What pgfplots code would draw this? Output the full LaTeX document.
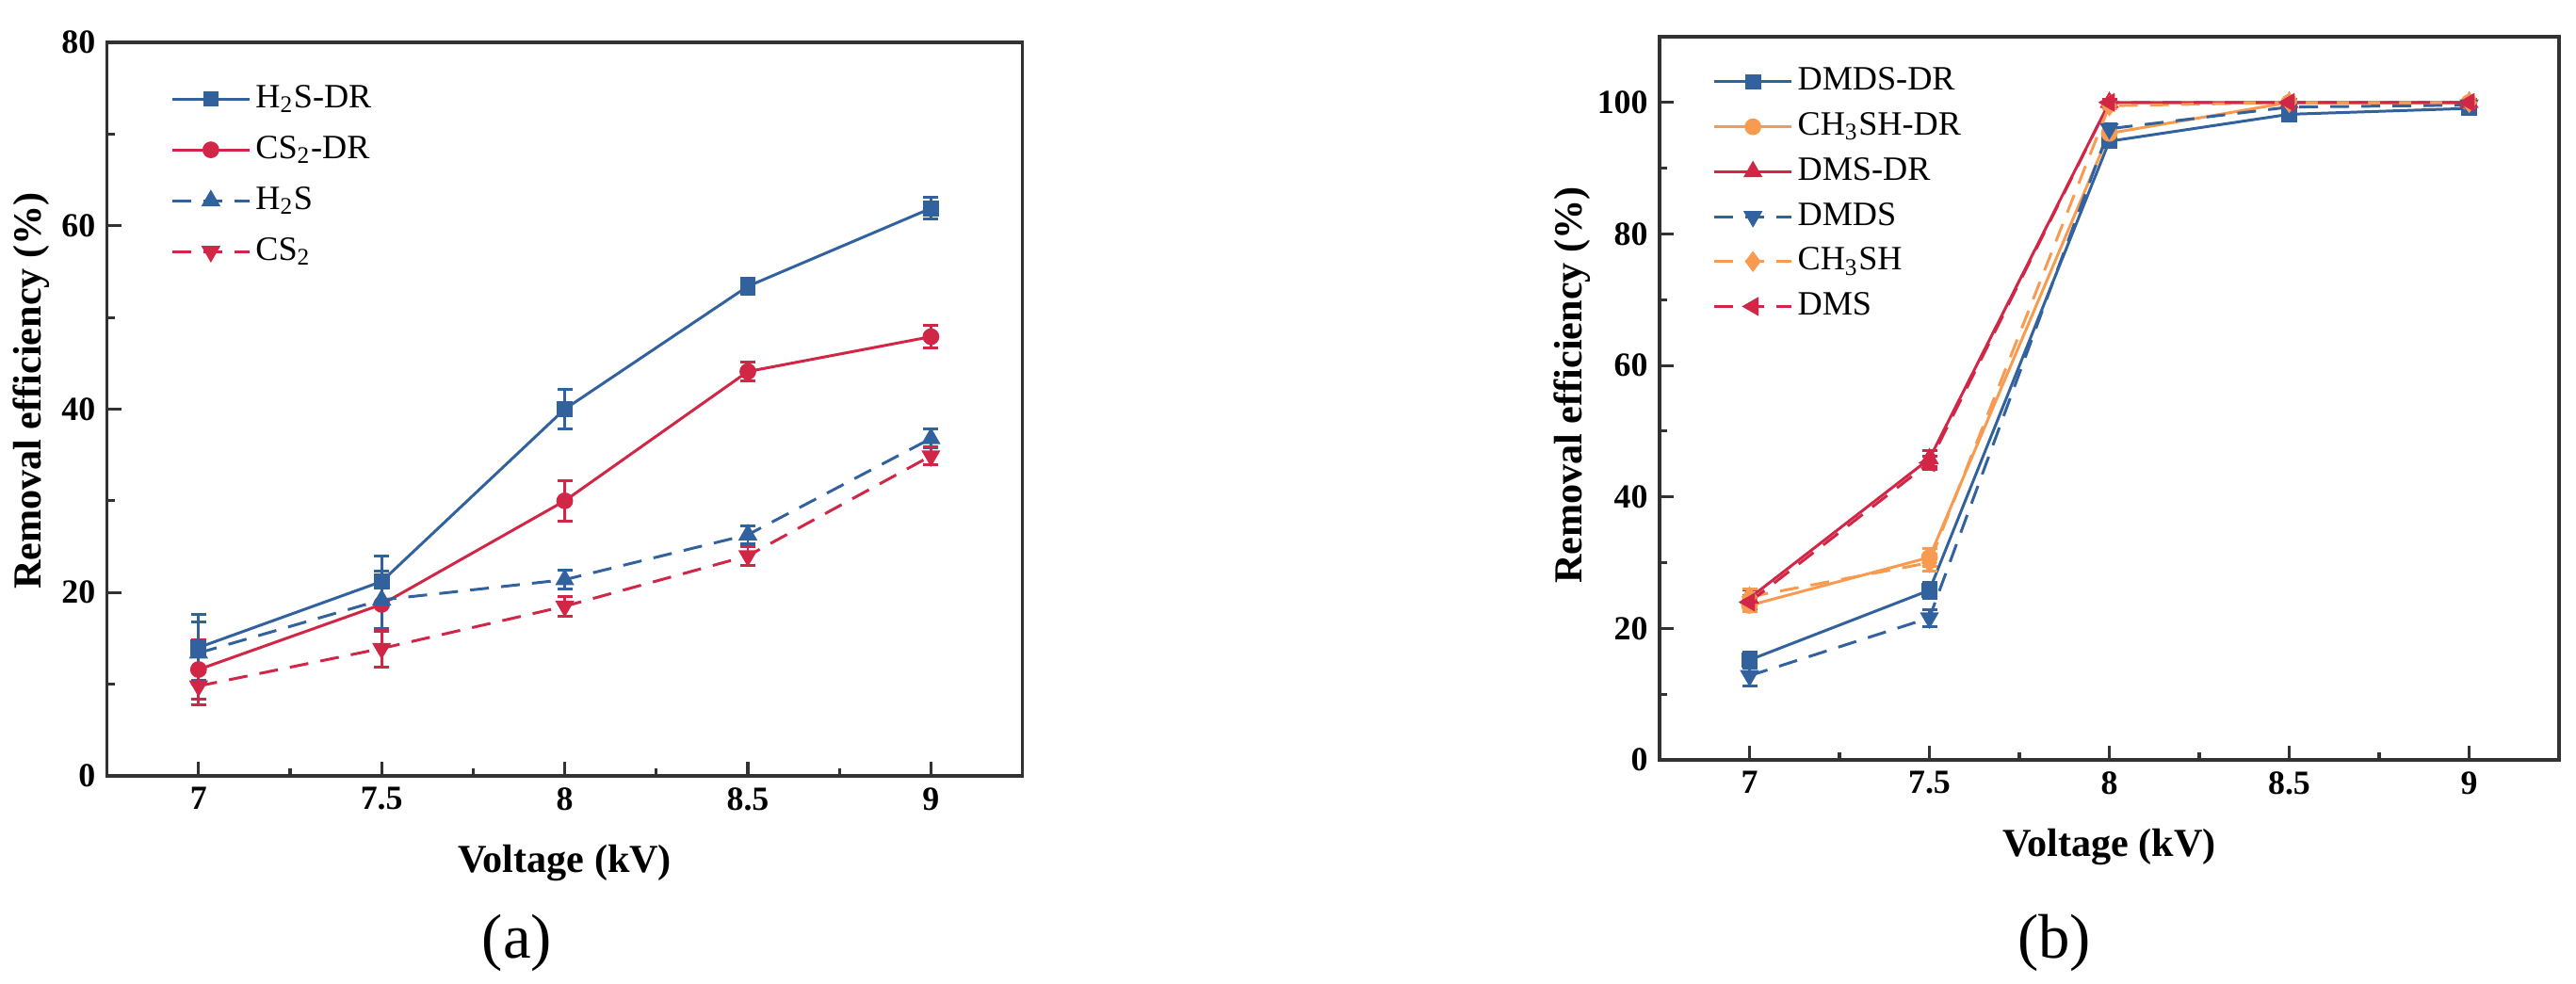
\documentclass[border=0pt]{standalone}
\usepackage{fontspec}
\setmainfont{Liberation Serif}
\usepackage{pgfplots}
\pgfplotsset{compat=1.18}
\definecolor{cblue}{RGB}{50,98,158}
\definecolor{cred}{RGB}{210,38,70}
\definecolor{corange}{RGB}{248,155,80}
\definecolor{axgray}{RGB}{50,50,50}

\pgfplotstableread{
x y e
7 14.0 3.6
7.5 21.2 2.8
8 40.0 2.2
8.5 53.4 0.9
9 61.9 1.2
}\hsdr
\pgfplotstableread{
x y e
7 11.6 3.2
7.5 18.7 2.9
8 30.0 2.2
8.5 44.1 1.0
9 47.9 1.2
}\csdr
\pgfplotstableread{
x y e
7 13.4 3.4
7.5 19.2 3.1
8 21.4 1.0
8.5 26.3 1.0
9 36.8 1.0
}\hs
\pgfplotstableread{
x y e
7 9.8 2.0
7.5 13.9 2.0
8 18.5 1.1
8.5 24.0 1.0
9 34.9 1.0
}\cs

\pgfplotstableread{
x y e
7 15.2 1.2
7.5 25.8 1.2
8 94.1 0.8
8.5 98.2 0.8
9 99.1 0.8
}\dmdsdr
\pgfplotstableread{
x y e
7 23.5 1.0
7.5 30.8 1.3
8 95.3 0.8
8.5 100 0.5
9 100 0.5
}\chdr
\pgfplotstableread{
x y e
7 24.6 1.2
7.5 45.8 1.2
8 100 0.5
8.5 100 0.5
9 100 0.5
}\dmsdr
\pgfplotstableread{
x y e
7 12.8 1.5
7.5 21.6 1.3
8 96.0 0.8
8.5 99.3 0.5
9 99.6 0.5
}\dmds
\pgfplotstableread{
x y e
7 24.8 1.2
7.5 30.0 1.3
8 99.5 0.5
8.5 100 0.5
9 100 0.5
}\ch
\pgfplotstableread{
x y e
7 24.0 1.0
7.5 45.2 1.0
8 100 0.5
8.5 100 0.5
9 100 0.5
}\dms

\pgfplotsset{
  myaxis/.style={
    scale only axis,
    xmin=6.75, xmax=9.25,
    xtick={7,7.5,8,8.5,9},
    minor x tick num=1, minor y tick num=1,
    xtick pos=bottom, ytick pos=left, tick align=inside,
    major tick length=0.15cm, minor tick length=0.08cm,
    axis line style={line width=0.9pt, axgray},
    every tick/.style={axgray, line width=0.9pt},
    tick label style={font=\fontsize{10.2}{12}\selectfont\bfseries, black},
    label style={font=\fontsize{12}{14}\selectfont\bfseries},
    /pgf/number format/assume math mode=true,
    xlabel={Voltage (kV)},
    ylabel={Removal efficiency (\%)},
    legend cell align=left,
    legend style={draw=none, fill=none, inner sep=0pt,
      font=\fontsize{10.3}{12}\selectfont,
      nodes={inner ysep=0pt, inner xsep=0.05cm, text height=0.24cm, text depth=0.06cm}},
    legend image code/.code={%
      \draw[mark repeat=2,mark phase=2] plot coordinates {(0cm,0cm) (0.41cm,0cm) (0.82cm,0cm)};},
  },
  eb/.style={
    error bars/y dir=both, error bars/y explicit,
    error bars/error bar style={line width=0.85pt, solid, #1},
    error bars/error mark options={rotate=90, mark size=0.08cm, line width=0.85pt, solid, #1}},
  sline/.style={color=#1, line width=0.85pt, solid, mark size=1.95pt, eb=#1},
  dline/.style={color=#1, line width=0.85pt, dash pattern=on 0.2cm off 0.13cm, mark size=1.95pt, eb=#1},
}

\begin{document}
\begin{tikzpicture}[x=1cm,y=1cm]
\useasboundingbox (0,0) rectangle (27.35,10.45);

\begin{axis}[myaxis,
  at={(1.136cm,2.21cm)}, anchor=south west,
  width=9.72cm, height=7.79cm,
  ymin=0, ymax=80, ytick={0,20,40,60,80},
  xlabel style={at={(axis description cs:0.5,-0.119)}, anchor=center},
  ylabel style={at={(axis description cs:-0.0823,0.525)}, anchor=center},
  legend style={at={(axis description cs:0.069,0.943)}, anchor=north west, row sep=0.24cm},
]
\addplot+[sline=cblue, mark=square*, mark options={solid, fill=cblue}] table[x=x,y=y,y error=e] {\hsdr};
\addlegendentry{H\textsubscript{2}S-DR}
\addplot+[sline=cred, mark=*, mark size=2.1pt, mark options={solid, fill=cred}] table[x=x,y=y,y error=e] {\csdr};
\addlegendentry{CS\textsubscript{2}-DR}
\addplot+[dline=cblue, mark=triangle*, mark size=2.5pt, mark options={solid, fill=cblue}] table[x=x,y=y,y error=e] {\hs};
\addlegendentry{H\textsubscript{2}S}
\addplot+[dline=cred, mark=triangle*, mark size=2.5pt, mark options={solid, fill=cred, rotate=180}] table[x=x,y=y,y error=e] {\cs};
\addlegendentry{CS\textsubscript{2}}
\end{axis}

\begin{axis}[myaxis,
  at={(17.62cm,2.38cm)}, anchor=south west,
  width=9.55cm, height=7.68cm,
  ymin=0, ymax=110, ytick={0,20,40,60,80,100},
  xlabel style={at={(axis description cs:0.5,-0.121)}, anchor=center},
  ylabel style={at={(axis description cs:-0.097,0.518)}, anchor=center},
  legend style={at={(axis description cs:0.0586,0.958)}, anchor=north west, row sep=0.177cm},
]
\addplot+[sline=cblue, mark=square*, mark options={solid, fill=cblue}] table[x=x,y=y,y error=e] {\dmdsdr};
\addlegendentry{DMDS-DR}
\addplot+[sline=corange, mark=*, mark size=2.1pt, mark options={solid, fill=corange}] table[x=x,y=y,y error=e] {\chdr};
\addlegendentry{CH\textsubscript{3}SH-DR}
\addplot+[sline=cred, mark=triangle*, mark size=2.5pt, mark options={solid, fill=cred}] table[x=x,y=y,y error=e] {\dmsdr};
\addlegendentry{DMS-DR}
\addplot+[dline=cblue, mark=triangle*, mark size=2.5pt, mark options={solid, fill=cblue, rotate=180}] table[x=x,y=y,y error=e] {\dmds};
\addlegendentry{DMDS}
\addplot+[dline=corange, mark=diamond*, mark size=2.5pt, mark options={solid, fill=corange}] table[x=x,y=y,y error=e] {\ch};
\addlegendentry{CH\textsubscript{3}SH}
\addplot+[dline=cred, mark=triangle*, mark size=2.5pt, mark options={solid, fill=cred, rotate=90}] table[x=x,y=y,y error=e] {\dms};
\addlegendentry{DMS}
\end{axis}

\node[font=\fontsize{19}{21}\selectfont] at (5.49,0.44) {(a)};
\node[font=\fontsize{19}{21}\selectfont] at (21.81,0.44) {(b)};
\end{tikzpicture}
\end{document}
